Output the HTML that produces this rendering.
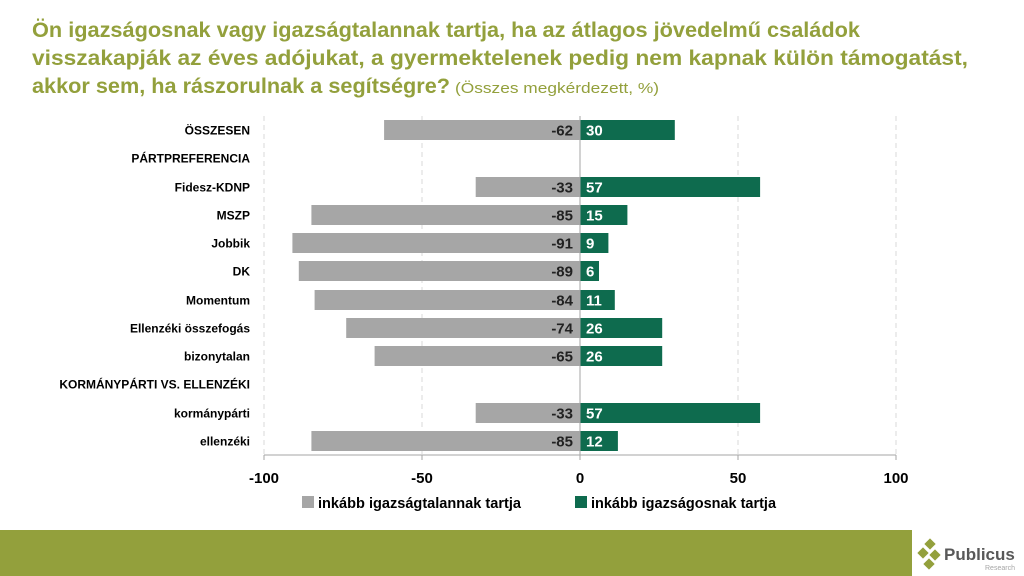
<!DOCTYPE html>
<html><head><meta charset="utf-8"><style>
body{margin:0;width:1024px;height:576px;background:#fff;overflow:hidden}
svg{display:block}
</style></head><body>
<svg width="1024" height="576" xmlns="http://www.w3.org/2000/svg" font-family="Liberation Sans, sans-serif">
<g fill="#93A03C" font-weight="bold" font-size="21">
<text x="32" y="37" textLength="828" lengthAdjust="spacingAndGlyphs">Ön igazságosnak vagy igazságtalannak tartja, ha az átlagos jövedelmű családok</text>
<text x="32" y="65" textLength="936" lengthAdjust="spacingAndGlyphs">visszakapják az éves adójukat, a gyermektelenek pedig nem kapnak külön támogatást,</text>
<text x="32" y="93" textLength="418" lengthAdjust="spacingAndGlyphs">akkor sem, ha rászorulnak a segítségre?</text>
</g>
<text x="455" y="93" fill="#93A03C" font-size="15" textLength="204" lengthAdjust="spacingAndGlyphs">(Összes megkérdezett, %)</text>
<g stroke="#D9D9D9" stroke-dasharray="5,4" stroke-width="1">
<line x1="264" y1="116" x2="264" y2="455"/><line x1="422" y1="116" x2="422" y2="455"/>
<line x1="738" y1="116" x2="738" y2="455"/><line x1="896" y1="116" x2="896" y2="455"/>
</g>
<g fill="#A6A6A6">
<rect x="384.1" y="120" width="195.9" height="20"/>
<rect x="475.7" y="177" width="104.3" height="20"/>
<rect x="311.4" y="205" width="268.6" height="20"/>
<rect x="292.4" y="233" width="287.6" height="20"/>
<rect x="298.8" y="261" width="281.2" height="20"/>
<rect x="314.6" y="290" width="265.4" height="20"/>
<rect x="346.2" y="318" width="233.8" height="20"/>
<rect x="374.6" y="346" width="205.4" height="20"/>
<rect x="475.7" y="403" width="104.3" height="20"/>
<rect x="311.4" y="431" width="268.6" height="20"/>
</g>
<g fill="#0E6B4E">
<rect x="580" y="120" width="94.8" height="20"/>
<rect x="580" y="177" width="180.1" height="20"/>
<rect x="580" y="205" width="47.4" height="20"/>
<rect x="580" y="233" width="28.4" height="20"/>
<rect x="580" y="261" width="19" height="20"/>
<rect x="580" y="290" width="34.8" height="20"/>
<rect x="580" y="318" width="82.2" height="20"/>
<rect x="580" y="346" width="82.2" height="20"/>
<rect x="580" y="403" width="180.1" height="20"/>
<rect x="580" y="431" width="37.9" height="20"/>
</g>
<g font-size="12" font-weight="bold" text-anchor="end" fill="#000">
<text x="250" y="134.5">ÖSSZESEN</text>
<text x="250" y="162.5">PÁRTPREFERENCIA</text>
<text x="250" y="191.5">Fidesz-KDNP</text>
<text x="250" y="219.5">MSZP</text>
<text x="250" y="247.5">Jobbik</text>
<text x="250" y="275.5">DK</text>
<text x="250" y="304.5">Momentum</text>
<text x="250" y="332.5">Ellenzéki összefogás</text>
<text x="250" y="360.5">bizonytalan</text>
<text x="250" y="388.5">KORMÁNYPÁRTI VS. ELLENZÉKI</text>
<text x="250" y="417.5">kormánypárti</text>
<text x="250" y="445.5">ellenzéki</text>
</g>
<g font-size="15" font-weight="bold" text-anchor="end" fill="#222">
<text x="573" y="135.5">-62</text>
<text x="573" y="192.5">-33</text>
<text x="573" y="220.5">-85</text>
<text x="573" y="248.5">-91</text>
<text x="573" y="276.5">-89</text>
<text x="573" y="305.5">-84</text>
<text x="573" y="333.5">-74</text>
<text x="573" y="361.5">-65</text>
<text x="573" y="418.5">-33</text>
<text x="573" y="446.5">-85</text>
</g>
<g font-size="15" font-weight="bold" fill="#fff">
<text x="586" y="135.5">30</text>
<text x="586" y="192.5">57</text>
<text x="586" y="220.5">15</text>
<text x="586" y="248.5">9</text>
<text x="586" y="276.5">6</text>
<text x="586" y="305.5">11</text>
<text x="586" y="333.5">26</text>
<text x="586" y="361.5">26</text>
<text x="586" y="418.5">57</text>
<text x="586" y="446.5">12</text>
</g>
<line x1="264" y1="455" x2="896" y2="455" stroke="#A6A6A6"/>
<line x1="580" y1="116" x2="580" y2="455" stroke="#A6A6A6"/>
<g stroke="#A6A6A6"><line x1="264" y1="455" x2="264" y2="460"/><line x1="422" y1="455" x2="422" y2="460"/><line x1="580" y1="455" x2="580" y2="460"/><line x1="738" y1="455" x2="738" y2="460"/><line x1="896" y1="455" x2="896" y2="460"/></g>
<g font-size="15" font-weight="bold" fill="#000" text-anchor="middle">
<text x="264" y="483">-100</text><text x="422" y="483">-50</text><text x="580" y="483">0</text><text x="738" y="483">50</text><text x="896" y="483">100</text>
</g>
<rect x="302" y="496" width="12" height="12" fill="#A6A6A6"/>
<text x="318" y="508" font-size="15" font-weight="bold" textLength="203" lengthAdjust="spacingAndGlyphs">inkább igazságtalannak tartja</text>
<rect x="575" y="496" width="12" height="12" fill="#0E6B4E"/>
<text x="591" y="508" font-size="15" font-weight="bold" textLength="185" lengthAdjust="spacingAndGlyphs">inkább igazságosnak tartja</text>
<rect x="0" y="530" width="912" height="46" fill="#93A03C"/>
<g transform="translate(918,540)">
<rect x="8" y="0" width="8" height="8" fill="#93A03C" transform="rotate(45 12 4)"/>
<rect x="1" y="9" width="8" height="8" fill="#93A03C" transform="rotate(45 5 13)"/>
<rect x="13" y="11" width="8" height="8" fill="#93A03C" transform="rotate(45 17 15)"/>
<rect x="7" y="20" width="8" height="8" fill="#93A03C" transform="rotate(45 11 24)"/>
</g>
<text x="944" y="560" font-size="17" font-weight="bold" fill="#595959">Publicus</text>
<text x="985" y="570" font-size="7" fill="#A6A6A6">Research</text>
</svg>
</body></html>
